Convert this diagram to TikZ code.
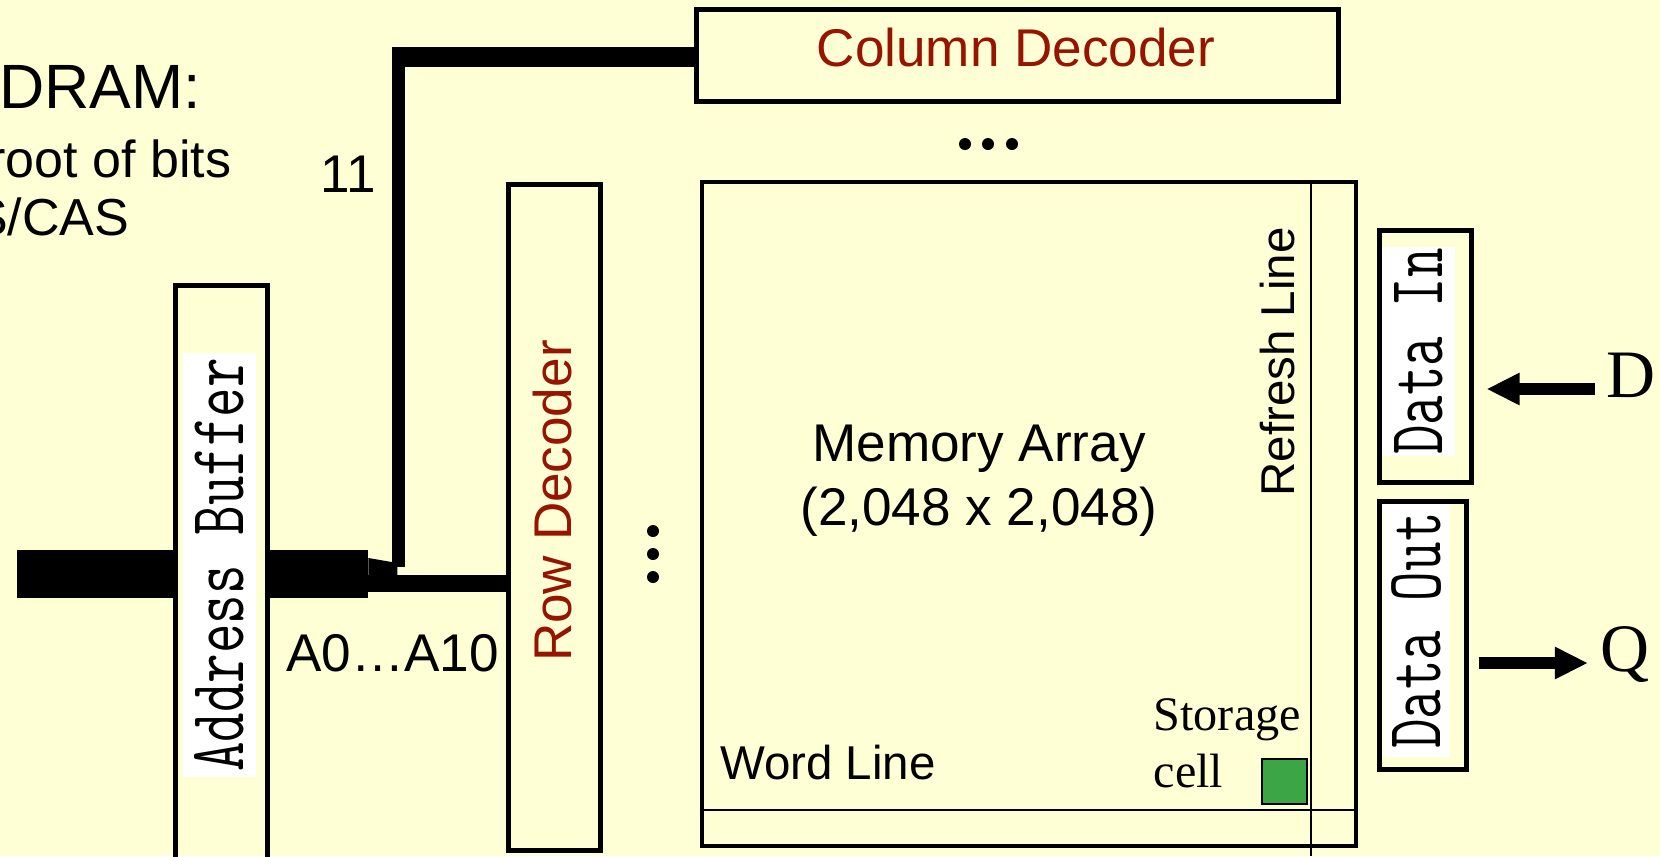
\documentclass[tikz,border=0pt]{standalone}
\usepackage{fontspec}
\setmainfont{Liberation Sans}
\newfontfamily\timesface{Liberation Serif}
\usepackage{graphicx}
\usetikzlibrary{positioning,arrows.meta}
\definecolor{SlideBg}{RGB}{255,255,213}
\definecolor{DecText}{RGB}{150,20,0}
\definecolor{CellGreen}{RGB}{60,165,70}
\newcommand{\pixtext}[1]{\scalebox{1}[1.37]{\ttfamily #1}}

\begin{document}
\begin{tikzpicture}[x=0.01cm, y=-0.01cm,
    blk/.style={draw, line width=1.4pt, inner sep=0},
    pixlbl/.style={fill=white, inner sep=0, rotate=90, font=\fontsize{16.3}{19}\selectfont},
    txt/.style={font=\fontsize{15.1}{18.2}\selectfont, inner sep=0},
    small/.style={font=\fontsize{13.5}{16}\selectfont, inner sep=0},
    dec/.style={txt, text=DecText},
    wire/.style={line width=0.6pt},
    sig/.style={-{Triangle[length=0.33cm, width=0.3cm]}, line width=0.12cm}
]
\fill[SlideBg] (0,0) rectangle (1660,856);
\useasboundingbox (0,0) rectangle (1660,856);

\node[font=\fontsize{17.8}{20}\selectfont, anchor=base east, inner sep=0] (title) at (202,108) {DRAM:};
\node[font=\fontsize{14.8}{17}\selectfont, anchor=base east, inner sep=0] (pt1) at (232,177) {root of bits};
\node[font=\fontsize{14.8}{17}\selectfont, anchor=base east, inner sep=0] (pt2) at (130,235) {S/CAS};

\node[blk, minimum width=0.92cm, minimum height=6.14cm] (abuf) at (221.5,593) {};
\node[pixlbl, minimum width=4.24cm, minimum height=0.73cm] (abuflbl) at (219.5,565) {\pixtext{Address Buffer}};
\node[blk, minimum width=0.92cm, minimum height=6.66cm] (rowdec) at (554.5,517.5) {};
\node[dec, rotate=90] (rowdectxt) at (552.5,501) {Row Decoder};
\node[blk, minimum width=6.42cm, minimum height=0.92cm] (coldec) at (1017.5,55.5) {};
\node[dec] (coldectxt) at (1016,47.5) {Column Decoder};

\node[draw, line width=1.25pt, minimum width=6.54cm, minimum height=6.64cm, inner sep=0] (mem) at (1029,514) {};
\node[txt, align=center] (memtxt) at (979,481) {Memory Array\\(2,048 x 2,048)};
\draw[wire] (mem.north) ++(282,0) -- ++(0,676);
\draw[wire] (mem.south west) ++(0,-38) -- ++(654,0);
\node[small, rotate=90] (refrtxt) at (1277.5,362) {Refresh Line};
\node[small] (wordtxt) at (828,762.5) {Word Line};
\node[draw, fill=CellGreen, line width=0.6pt, minimum size=0.45cm, inner sep=0] (cell) at (1284.5,781.5) {};
\node[font=\timesface\fontsize{13.7}{16.2}\selectfont, align=left, anchor=north west, inner sep=0] (celltxt) at (1153,698) {Storage\\cell};

\node[blk, minimum width=0.92cm, minimum height=2.52cm] (datain) at (1425.5,356.5) {};
\node[pixlbl, minimum width=2.09cm, minimum height=0.73cm] (dinlbl) at (1418.5,351.5) {\pixtext{Data In}};
\node[blk, minimum width=0.87cm, minimum height=2.68cm] (dataout) at (1423,635.5) {};
\node[pixlbl, minimum width=2.53cm, minimum height=0.67cm] (doutlbl) at (1416.5,630.5) {\pixtext{Data Out}};
\node[font=\timesface\fontsize{19.3}{22}\selectfont, inner sep=0] (dpin) at (1631,375.5) {D};
\node[font=\timesface\fontsize{19.3}{22}\selectfont, inner sep=0] (qpin) at (1625,655) {Q};

\coordinate (din) at (1595,389);
\coordinate (qout) at (1588,663);
\draw[sig, shorten >=0.125cm] (din) -- (din -| datain.east);
\draw[sig, shorten <=0.095cm] (qout -| dataout.east) -- (qout);

\coordinate (busin) at (17,574);
\draw[line width=0.48cm] (busin) -- (busin -| abuf.west);
\draw[line width=0.48cm] (busin -| abuf.east) -- ++(98.5,0) coordinate (split);
\fill (split) ++(0,-16) -- ++(29,5) -- ++(0,28) -- ++(-29,0) -- cycle;
\coordinate (rowin) at (366,583.5);
\draw[line width=0.17cm] (rowin) -- (rowin -| rowdec.west);
\coordinate (tap) at (398.5,567);
\coordinate (corner) at (398.5,57);
\draw[line width=0.13cm] (tap) -- ([yshift=0.1cm]corner);
\draw[line width=0.2cm] ([xshift=-0.065cm]corner) -- (corner -| coldec.west);
\node[txt] (bits) at (348.5,174) {11};
\node[txt] (addr) at (392.5,653) {A0…A10};

\foreach \y in {531,554,577} \fill (653,\y) circle (0.06cm);
\foreach \x in {965,988,1012} \fill (\x,144) circle (0.06cm);
\end{tikzpicture}
\end{document}
